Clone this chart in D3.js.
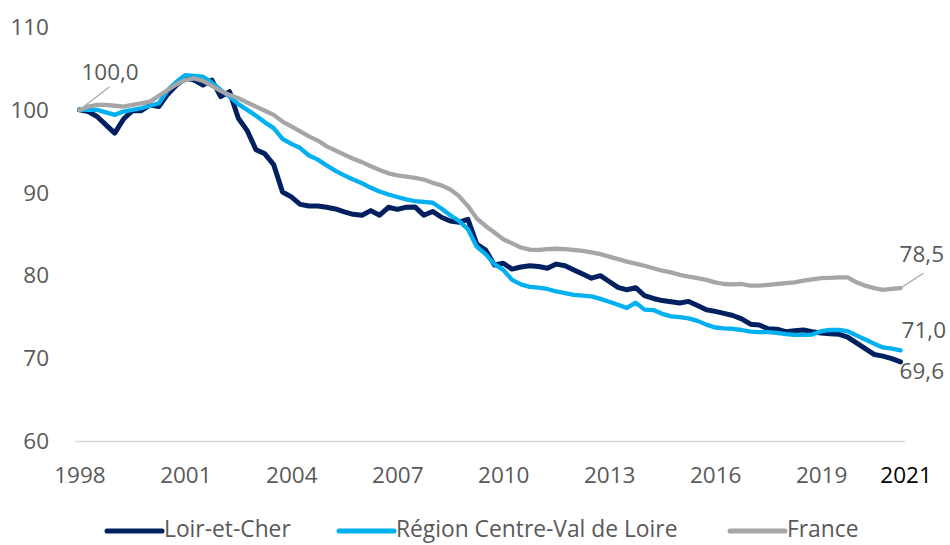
<!DOCTYPE html>
<html><head><meta charset="utf-8">
<script src="https://cdn.jsdelivr.net/npm/d3@7"></script>
<style>body{margin:0;background:#fff} svg{display:block} text{font-family:"Open Sans",sans-serif}</style>
</head><body><svg id="c" width="950" height="545"></svg>
<script>
// Quarterly index (base 100 = 1998 Q1), 1998 Q1 .. 2021 Q2
const loirEtCher = [
100.0,99.8,99.2,98.2,97.2,98.9,99.9,99.9,100.6,100.4,
101.9,103.0,103.8,103.6,103.0,103.6,101.6,102.2,99.0,97.5,
95.2,94.7,93.4,90.1,89.5,88.6,88.4,88.4,88.25,88.05,
87.7,87.4,87.3,87.85,87.3,88.25,88.0,88.25,88.3,87.3,
87.75,87.05,86.6,86.45,86.8,83.8,83.1,81.3,81.5,80.8,
81.05,81.2,81.1,80.9,81.4,81.2,80.7,80.2,79.7,80.0,
79.3,78.6,78.3,78.55,77.6,77.25,77.0,76.85,76.7,76.9,
76.4,75.9,75.7,75.45,75.2,74.8,74.15,74.05,73.6,73.55,
73.25,73.35,73.45,73.25,73.1,73.0,72.95,72.6,71.9,71.2,
70.5,70.3,70.0,69.6];
const region = [
100.0,100.0,100.0,99.7,99.4,99.8,100.0,100.2,100.5,100.8,
102.4,103.4,104.2,104.1,104.0,103.3,102.4,101.6,100.7,100.0,
99.3,98.5,97.8,96.5,95.9,95.4,94.5,94.0,93.3,92.65,
92.1,91.6,91.15,90.6,90.15,89.8,89.5,89.2,89.0,88.9,
88.8,88.1,87.3,86.6,85.6,83.5,82.6,81.4,80.7,79.5,
78.95,78.65,78.55,78.4,78.1,77.9,77.7,77.6,77.5,77.2,
76.85,76.5,76.1,76.75,75.9,75.85,75.4,75.1,75.0,74.85,
74.55,74.1,73.75,73.65,73.6,73.45,73.25,73.2,73.2,73.1,
72.95,72.85,72.85,72.9,73.3,73.45,73.45,73.3,72.8,72.3,
71.8,71.35,71.2,71.0];
const france = [
100.0,100.4,100.6,100.6,100.5,100.4,100.6,100.8,101.0,101.7,
102.4,103.1,103.6,103.8,103.5,102.9,102.3,101.8,101.4,100.9,
100.4,99.9,99.4,98.6,98.0,97.4,96.8,96.3,95.6,95.1,
94.6,94.1,93.7,93.2,92.75,92.35,92.1,91.95,91.8,91.6,
91.2,90.9,90.4,89.6,88.4,86.9,86.0,85.2,84.4,83.9,
83.4,83.15,83.1,83.2,83.25,83.2,83.1,83.0,82.8,82.6,
82.3,82.0,81.7,81.45,81.2,80.9,80.6,80.4,80.1,79.9,
79.7,79.5,79.2,79.0,78.95,79.0,78.8,78.8,78.9,79.0,
79.1,79.2,79.4,79.55,79.7,79.75,79.8,79.8,79.2,78.8,
78.5,78.3,78.4,78.5];
const yTicks = [60,70,80,90,100,110];
const xTickIdx = [0,12,24,36,48,60,72,84,93];
const xTickLabels = ["1998","2001","2004","2007","2010","2013","2016","2019","2021"];
const seriesNames = ["Loir-et-Cher","Région Centre-Val de Loire","France"];
const seriesData = [loirEtCher, region, france];
const colors = ["#002060","#00B0F0","#A6A6A6"];
const widths = [5,4.3,4.3];

const svg = d3.select("#c");
const n = loirEtCher.length;
const x = d3.scaleLinear().domain([-0.5, n-0.5]).range([75, 905]);
const y = d3.scaleLinear().domain([60,110]).range([441.5, 27]);
const fs = "22.5px";

// baseline gridline
svg.append("line").attr("x1",x(-0.5)).attr("x2",x(n-0.5)).attr("y1",y(60)).attr("y2",y(60))
  .attr("stroke","#D9D9D9").attr("stroke-width",1.5);

// y axis
const ya = svg.append("g").attr("transform",`translate(${x(-0.5)},0)`)
  .call(d3.axisLeft(y).tickValues(yTicks).tickSize(0).tickPadding(26));
ya.select(".domain").remove();
ya.selectAll("text").attr("fill","#595959").style("font-size",fs).style("font-family","Open Sans");

// x axis
const xa = svg.append("g").attr("transform",`translate(0,${y(60)})`)
  .call(d3.axisBottom(x).tickValues(xTickIdx).tickFormat((d,i)=>xTickLabels[i]).tickSize(0).tickPadding(26));
xa.select(".domain").remove();
xa.selectAll("text").attr("fill","#595959").style("font-size",fs).style("font-family","Open Sans");
xa.selectAll("text").filter((d,i)=>i===xTickIdx.length-1).attr("fill","#000").attr("dx",5);

// lines
const line = d3.line().x((d,i)=>x(i)).y(d=>y(d));
seriesData.forEach((s,k)=>{
  svg.append("path").datum(s).attr("d",line).attr("fill","none")
    .attr("stroke",colors[k]).attr("stroke-width",widths[k])
    .attr("stroke-linejoin","round").attr("stroke-linecap","round");
});

// data labels
const fmt = v => v.toFixed(1).replace(".",",");
const lab = (tx,ty,t)=>svg.append("text").attr("x",tx).attr("y",ty).text(t)
  .attr("fill","#595959").style("font-size",fs);
svg.append("line").attr("x1",x(0)+5).attr("y1",y(france[0])-4).attr("x2",x(0)+30).attr("y2",y(france[0])-23)
  .attr("stroke","#A6A6A6").attr("stroke-width",1.2);
lab(x(0)+2, y(france[0])-30, fmt(france[0]));
const L = n-1;
svg.append("line").attr("x1",x(L)+1).attr("y1",y(france[L])-1).attr("x2",x(L)+23).attr("y2",y(france[L])-15)
  .attr("stroke","#A6A6A6").attr("stroke-width",1.2);
lab(x(L)-1, y(france[L])-26, fmt(france[L]));
lab(x(L)+1, y(region[L])-12, fmt(region[L]));
lab(x(L)-1, y(loirEtCher[L])+17, fmt(loirEtCher[L]));

// legend
const legX = [107, 339, 730];
const legW = [55, 55, 55];
seriesNames.forEach((nm,k)=>{
  const g = svg.append("g");
  g.append("line").attr("x1",legX[k]).attr("x2",legX[k]+legW[k]).attr("y1",531).attr("y2",531)
    .attr("stroke",colors[k]).attr("stroke-width",5).attr("stroke-linecap","round");
  g.append("text").attr("x",legX[k]+legW[k]+2).attr("y",537).text(nm).attr("fill","#595959")
    .style("font-size","22.8px");
});
</script></body></html>
